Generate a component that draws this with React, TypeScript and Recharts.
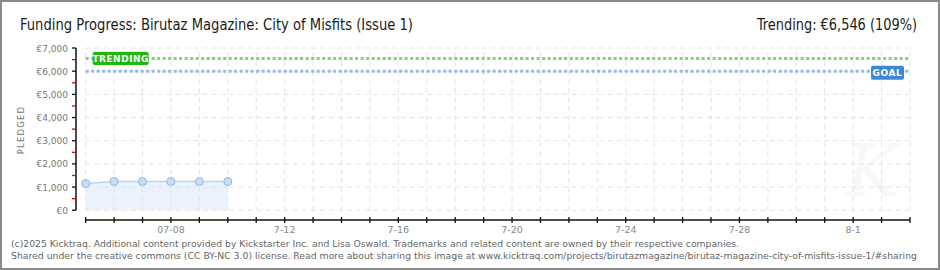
import React from 'react';
import { ComposedChart, Area, XAxis, YAxis, ReferenceLine } from 'recharts';

// pledged totals per day (day 0 = 07-05)
const days = [0, 1, 2, 3, 4, 5];
const pledged = [1150, 1240, 1240, 1240, 1240, 1240];

const GOAL = 6000;
const TRENDING = 6546;

// every day of the campaign gets a tick, some get a label
const dayTicks = [0, 1, 2, 3, 4, 5, 6, 7, 8, 9, 10, 11, 12, 13, 14, 15, 16, 17, 18, 19, 20, 21, 22, 23, 24, 25, 26, 27, 28, 29];
const dayLabels: Record<number, string> = { 3: '07-08', 7: '7-12', 11: '7-16', 15: '7-20', 19: '7-24', 23: '7-28', 27: '8-1' };
const yTicks = [0, 500, 1000, 1500, 2000, 2500, 3000, 3500, 4000, 4500, 5000, 5500, 6000, 6500, 7000];
const gridY = [0, 1000, 2000, 3000, 4000, 5000, 6000, 7000];

const FIRST_DAY = 0;
const LAST_DAY = 29;
const X_MIN = -0.34;
const Y_MIN = -420;
const Y_MAX = 7000;

const data = days.map((d, i) => ({ day: d, pledged: pledged[i] }));

const fmtEuro = (v: number) => '€' + v.toLocaleString('en-US');

const HEAD_FONT = 'DejaVu Sans';

const XTick = (props: any) => {
  const { x, y, payload } = props;
  const lbl = dayLabels[payload.value];
  return (
    <g>
      <line x1={x} x2={x} y1={y - 3} y2={y + 3} stroke="#111" strokeWidth={1.3} />
      {lbl && (
        <text x={x} y={y + 13} textAnchor="middle" fontSize={9.5} fill="#888" fontFamily="DejaVu Sans">
          {lbl}
        </text>
      )}
    </g>
  );
};

const YTick = (props: any) => {
  const { x, y, payload } = props;
  const major = payload.value % 1000 === 0;
  return (
    <g>
      <line x1={x - 4} x2={x} y1={y} y2={y} stroke={major ? '#111' : '#e00000'} strokeWidth={1.3} />
      {major && (
        <text x={x - 8} y={y + 3.5} textAnchor="end" fontSize={9} fill="#777" fontFamily="DejaVu Sans">
          {fmtEuro(payload.value)}
        </text>
      )}
    </g>
  );
};

const TrendTag = (props: any) => {
  const vb = props.viewBox;
  if (!vb) return null;
  return (
    <g>
      <rect x={vb.x + 7} y={vb.y - 6.5} width={56} height={13} rx={2} fill="#1eb80f" />
      <text x={vb.x + 35} y={vb.y + 3.5} textAnchor="middle" fontSize={9} fontWeight="bold" fill="#fff" fontFamily="DejaVu Sans" letterSpacing={0.5}>
        TRENDING
      </text>
    </g>
  );
};

const GoalTag = (props: any) => {
  const vb = props.viewBox;
  if (!vb) return null;
  const right = vb.x + vb.width - 6;
  return (
    <g>
      <rect x={right - 33} y={vb.y - 5.5} width={33} height={14} rx={2} fill="#3b88d9" />
      <text x={right - 16.5} y={vb.y + 5} textAnchor="middle" fontSize={9} fontWeight="bold" fill="#fff" fontFamily="DejaVu Sans" letterSpacing={0.6}>
        GOAL
      </text>
    </g>
  );
};

export default function App() {
  return (
    <div style={{ position: 'absolute', left: 0, top: 0, width: 940, height: 270, background: '#fff' }}>
      <svg width={940} height={270} style={{ position: 'absolute', left: 0, top: 0, pointerEvents: 'none' }}>
        <text x={872} y={196} textAnchor="middle" fontSize={72} fontStyle="italic" fontFamily="DejaVu Serif" fill="#f8f8f8">
          K
        </text>
      </svg>
      <div style={{ position: 'absolute', left: 0, top: 0 }}>
        <ComposedChart width={940} height={270} data={data} margin={{ top: 48, right: 30, bottom: 20, left: 0 }}>
          <XAxis
            dataKey="day"
            type="number"
            domain={[X_MIN, LAST_DAY]}
            ticks={dayTicks}
            interval={0}
            allowDataOverflow
            axisLine={false}
            tickLine={false}
            tickSize={0}
            tickMargin={0}
            height={30}
            tick={<XTick />}
          />
          <YAxis
            type="number"
            domain={[Y_MIN, Y_MAX]}
            ticks={yTicks}
            interval={0}
            allowDataOverflow
            axisLine={false}
            tickLine={false}
            tickSize={0}
            tickMargin={0}
            width={76}
            tick={<YTick />}
          />
          {gridY.map((v) => (
            <ReferenceLine
              key={'h' + v}
              segment={[{ x: FIRST_DAY, y: v }, { x: LAST_DAY, y: v }]}
              stroke="#e3e3e3"
              strokeDasharray="5 4"
            />
          ))}
          {dayTicks.map((d) => (
            <ReferenceLine
              key={'v' + d}
              segment={[{ x: d, y: 0 }, { x: d, y: Y_MAX }]}
              stroke="#e3e3e3"
              strokeDasharray="5 4"
            />
          ))}
          <Area
            type="linear"
            dataKey="pledged"
            baseValue={0}
            stroke="#b9d5f3"
            strokeWidth={1.5}
            fill="#eaf3fd"
            fillOpacity={1}
            dot={{ r: 4, fill: '#c8ddf7', stroke: '#94b6df', strokeWidth: 1 }}
            isAnimationActive={false}
          />
          <ReferenceLine
            segment={[{ x: FIRST_DAY, y: GOAL }, { x: LAST_DAY, y: GOAL }]}
            stroke="#96b9e4"
            strokeWidth={3}
            strokeDasharray="3 2.5"
            label={<GoalTag />}
          />
          <ReferenceLine
            segment={[{ x: FIRST_DAY, y: TRENDING }, { x: LAST_DAY, y: TRENDING }]}
            stroke="#83d274"
            strokeWidth={3}
            strokeDasharray="3 2.5"
            label={<TrendTag />}
          />
          {/* axis lines, offset from the data area like the original */}
          <ReferenceLine segment={[{ x: X_MIN, y: 0 }, { x: X_MIN, y: Y_MAX }]} stroke="#111" strokeWidth={1.5} />
          <ReferenceLine segment={[{ x: FIRST_DAY, y: Y_MIN }, { x: LAST_DAY, y: Y_MIN }]} stroke="#111" strokeWidth={1.5} />
        </ComposedChart>
      </div>
      <svg width={940} height={270} style={{ position: 'absolute', left: 0, top: 0, pointerEvents: 'none' }}>
        <text x={20} y={30} fontSize={15} fill="#1c1c1c" fontFamily={HEAD_FONT} fontStretch="condensed" textLength={393} lengthAdjust="spacingAndGlyphs">
          Funding Progress: Birutaz Magazine: City of Misfits (Issue 1)
        </text>
        <text x={757} y={30} fontSize={15} fill="#1c1c1c" fontFamily={HEAD_FONT} fontStretch="condensed" textLength={160} lengthAdjust="spacingAndGlyphs">
          Trending: €6,546 (109%)
        </text>
        <text
          transform="translate(24,130) rotate(-90)"
          textAnchor="middle"
          fontSize={8.5}
          letterSpacing={1.2}
          fill="#777"
          fontFamily="DejaVu Sans"
        >
          PLEDGED
        </text>
        <text x={11} y={247} fontSize={9.5} fill="#666" fontFamily="DejaVu Sans" textLength={728} lengthAdjust="spacingAndGlyphs">
          (c)2025 Kicktraq. Additional content provided by Kickstarter Inc. and Lisa Oswald. Trademarks and related content are owned by their respective companies.
        </text>
        <text x={11} y={259} fontSize={9.5} fill="#666" fontFamily="DejaVu Sans" textLength={906} lengthAdjust="spacingAndGlyphs">
          Shared under the creative commons (CC BY-NC 3.0) license. Read more about sharing this image at www.kicktraq.com/projects/birutazmagazine/birutaz-magazine-city-of-misfits-issue-1/#sharing
        </text>
      </svg>
      <div style={{ position: 'absolute', left: 0, top: 0, width: 940, height: 270, boxSizing: 'border-box', border: '2px solid #8a8a8a', pointerEvents: 'none' }} />
    </div>
  );
}
